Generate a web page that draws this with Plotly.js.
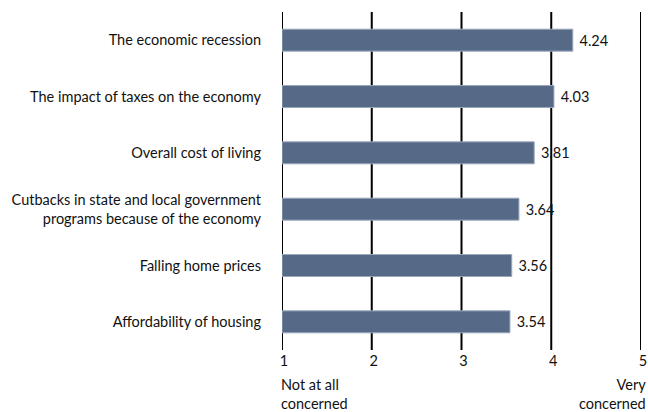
<!DOCTYPE html>
<html>
<head>
<meta charset="utf-8">
<script src="https://cdn.plot.ly/plotly-3.0.1.min.js"></script>
<style>html,body{margin:0;padding:0;background:#fff;}#chart{width:648px;height:412px;}</style>
</head>
<body>
<div id="chart"></div>
<script>
const categories = [
  "The economic recession",
  "The impact of taxes on the economy",
  "Overall cost of living",
  "Cutbacks in state and local government<br>programs because of the economy",
  "Falling home prices",
  "Affordability of housing"
];
const values = [4.24, 4.03, 3.81, 3.64, 3.56, 3.54];
const tickValues = [1, 2, 3, 4, 5];
const tickLabels = ["1", "2", "3", "4", "5"];
const scaleLow = "Not at all<br>concerned";
const scaleHigh = "Very<br>concerned";

const FONT = "Lato, 'Open Sans', sans-serif";
const FS = 14.5;

const trace = {
  type: "bar",
  orientation: "h",
  y: categories,
  x: values.map(v => v - 1),
  base: 1,
  width: 0.39,
  marker: {color: "#566a88", line: {color: "#9aa8bc", width: 1}},
  text: values.map(v => "\u00A0" + v.toFixed(2)),
  textposition: "outside",
  cliponaxis: false,
  textfont: {family: FONT, size: FS, color: "#111"},
  hoverinfo: "skip"
};

const gridShapes = tickValues.map(v => ({
  type: "line", layer: "below", xref: "x", yref: "paper",
  x0: v, x1: v, y0: 0, y1: 1,
  line: {color: "#000", width: 2}
}));

const layout = {
  width: 648, height: 412,
  margin: {l: 282, r: 7, t: 12, b: 62},
  paper_bgcolor: "#fff", plot_bgcolor: "#fff",
  showlegend: false,
  font: {family: FONT, size: FS, color: "#111"},
  shapes: gridShapes,
  xaxis: {
    range: [1, 5],
    tickvals: tickValues, ticktext: tickLabels,
    showgrid: false,
    zeroline: false, showline: false,
    ticks: "", ticklabelshift: 2,
    ticklabeloverflow: "allow",
    tickfont: {family: FONT, size: FS, color: "#111"},
    fixedrange: true
  },
  yaxis: {
    type: "category",
    autorange: "reversed",
    showgrid: false, zeroline: false, showline: false,
    ticks: "", ticklabelstandoff: 20,
    tickfont: {family: FONT, size: FS, color: "#111"},
    fixedrange: true
  },
  annotations: [
    {xref: "x", yref: "paper", x: 1, y: 0, yshift: -24, xshift: -3, text: scaleLow,
     showarrow: false, xanchor: "left", yanchor: "top", align: "left",
     font: {family: FONT, size: FS, color: "#111"}},
    {xref: "x", yref: "paper", x: 5, y: 0, yshift: -24, xshift: 7, text: scaleHigh,
     showarrow: false, xanchor: "right", yanchor: "top", align: "right",
     font: {family: FONT, size: FS, color: "#111"}}
  ]
};

Plotly.newPlot("chart", [trace], layout, {displayModeBar: false, staticPlot: true});
</script>
</body>
</html>
